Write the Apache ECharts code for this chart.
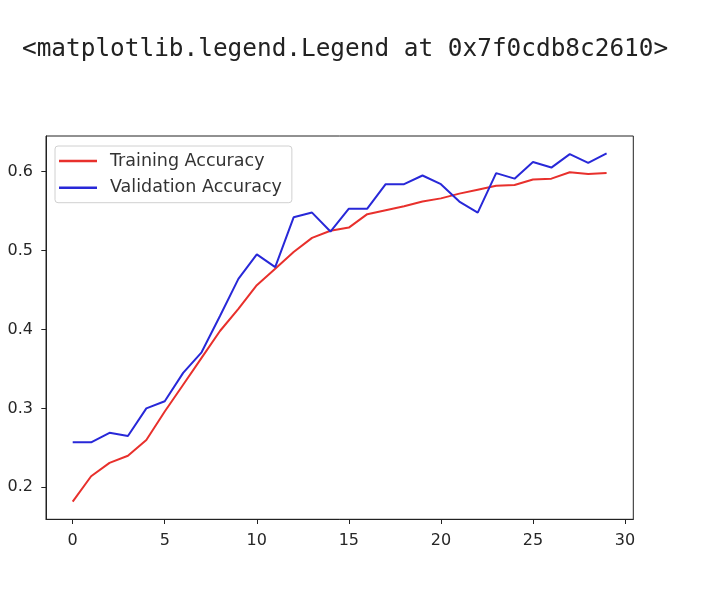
<!DOCTYPE html>
<html>
<head>
<meta charset="utf-8">
<script src="https://cdn.jsdelivr.net/npm/echarts@6/dist/echarts.min.js"></script>
<style>
html,body{margin:0;padding:0;background:#fff;}
#chart{width:720px;height:597px;}
</style>
</head>
<body>
<div id="chart"></div>
<script>
const epochs = [0,1,2,3,4,5,6,7,8,9,10,11,12,13,14,15,16,17,18,19,20,21,22,23,24,25,26,27,28,29];
const trainingAccuracy = [0.182,0.214,0.231,0.240,0.260,0.296,0.330,0.364,0.398,0.426,0.456,0.477,0.498,0.516,0.525,0.529,0.546,0.551,0.556,0.562,0.566,0.572,0.577,0.582,0.583,0.590,0.591,0.599,0.597,0.598];
const validationAccuracy = [0.257,0.257,0.269,0.265,0.300,0.309,0.345,0.371,0.417,0.464,0.495,0.479,0.542,0.548,0.524,0.553,0.553,0.584,0.584,0.595,0.584,0.562,0.548,0.598,0.591,0.612,0.605,0.622,0.611,0.623];
const xTicks = [0,5,10,15,20,25,30];
const yTicks = [0.2,0.3,0.4,0.5,0.6];
const seriesNames = ['Training Accuracy','Validation Accuracy'];
const headerText = '<matplotlib.legend.Legend at 0x7f0cdb8c2610>';

const chart = echarts.init(document.getElementById('chart'));
const textColor = '#262626';
chart.setOption({
  animation: false,
  backgroundColor: '#ffffff',
  title: {
    text: headerText,
    left: 17,
    top: 33,
    textStyle: {fontFamily: 'DejaVu Sans Mono', fontSize: 24.4, fontWeight: 'normal', color: '#222'}
  },
  grid: {
    left: 46, right: 86.7, top: 136, bottom: 77.7,
    show: true, borderColor: '#222', borderWidth: 1, backgroundColor: 'transparent'
  },
  legend: {
    orient: 'vertical',
    left: 55, top: 146,
    padding: [5, 10, 5, 4],
    itemGap: 6.7,
    itemWidth: 38, itemHeight: 2.5,
    icon: 'rect',
    backgroundColor: '#fff',
    borderColor: '#d0d0d0', borderWidth: 1, borderRadius: 3,
    textStyle: {fontFamily: 'DejaVu Sans', fontSize: 17.5, color: '#333', lineHeight: 20, padding: [0,0,0,8]},
    data: seriesNames
  },
  xAxis: {
    type: 'value', min: -1.45, max: 30.45,
    axisLine: {show: true, onZero: false, lineStyle: {color: '#222', width: 1}},
    axisTick: {show: true, length: 4.7, customValues: xTicks, lineStyle: {color: '#222'}},
    axisLabel: {customValues: xTicks, margin: 14, fontFamily: 'DejaVu Sans', fontSize: 16, color: textColor},
    splitLine: {show: false}
  },
  yAxis: {
    type: 'value', min: 0.1595, max: 0.645,
    axisLine: {show: true, onZero: false, lineStyle: {color: '#222', width: 1}},
    axisTick: {show: true, length: 4.7, customValues: yTicks, lineStyle: {color: '#222'}},
    axisLabel: {customValues: yTicks, margin: 13, fontFamily: 'DejaVu Sans', fontSize: 16, color: textColor,
      formatter: v => v.toFixed(1)},
    splitLine: {show: false}
  },
  series: [
    {
      name: seriesNames[0], type: 'line', symbol: 'none',
      data: epochs.map((e, i) => [e, trainingAccuracy[i]]),
      lineStyle: {color: '#e8302c', width: 2}, itemStyle: {color: '#e8302c'}
    },
    {
      name: seriesNames[1], type: 'line', symbol: 'none',
      data: epochs.map((e, i) => [e, validationAccuracy[i]]),
      lineStyle: {color: '#2828d8', width: 2}, itemStyle: {color: '#2828d8'}
    }
  ]
});
</script>
</body>
</html>
